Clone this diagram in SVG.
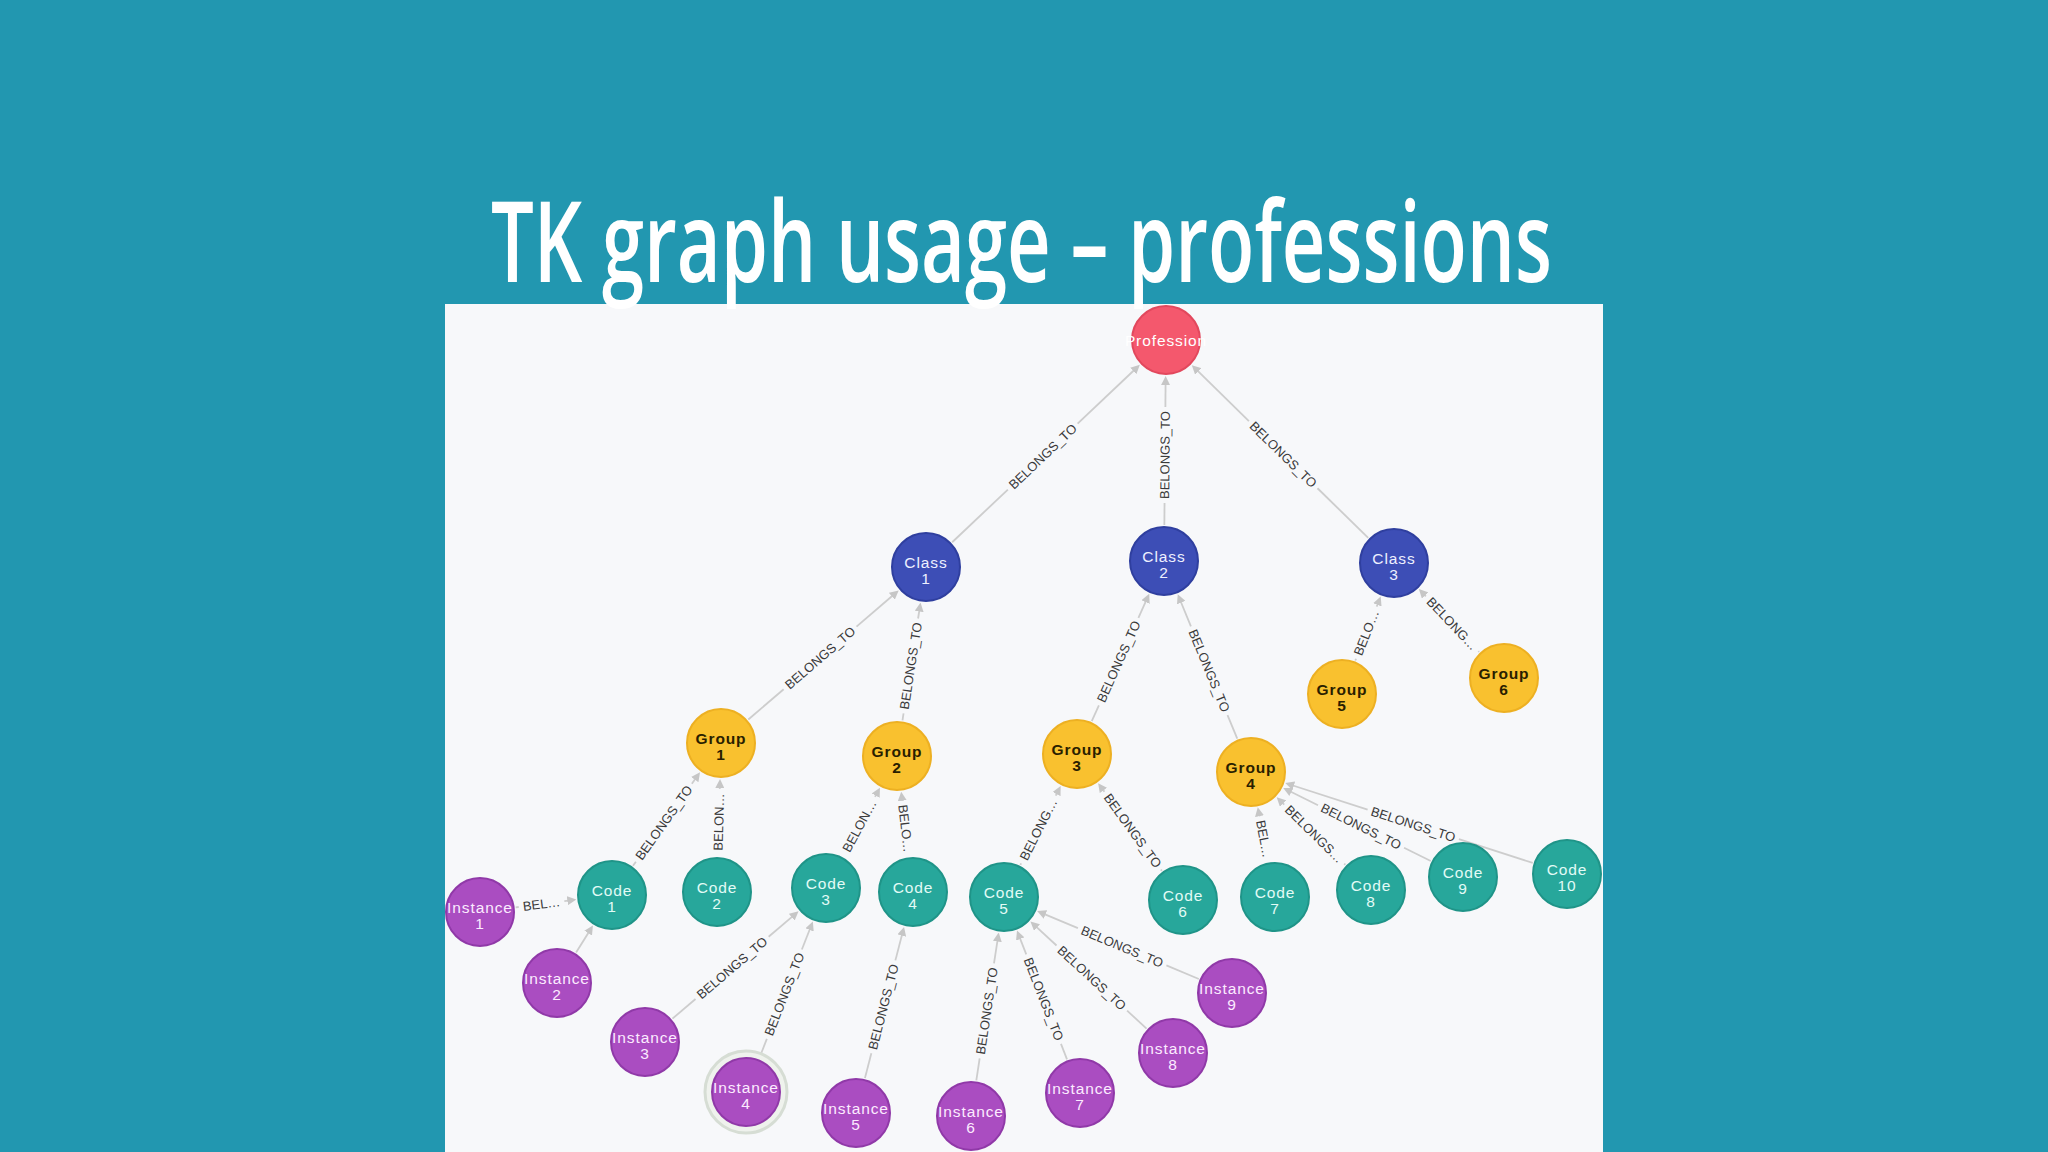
<svg xmlns="http://www.w3.org/2000/svg" width="2048" height="1152" viewBox="0 0 2048 1152">
<defs>
<style>
.e line{stroke:#CDCDCD;stroke-width:1.8;fill:none}
.e text{font-family:"Liberation Sans",Arial,sans-serif;font-size:13px;fill:#3A3A3A;text-anchor:middle}
.n circle{stroke-width:2}
.n text{font-family:"Liberation Sans",Arial,sans-serif;font-size:15.5px;letter-spacing:0.9px;text-anchor:middle}
.prof circle{fill:#F4586D;stroke:#E2485D}
.prof text{fill:#FFFFFF}
.cls circle{fill:#3D4EB6;stroke:#2F3F9F}
.cls text{fill:#EEF0FF}
.grp circle{fill:#F9C12F;stroke:#EDB022}
.grp text{fill:#2A1E00;font-weight:bold}
.code circle{fill:#27A79B;stroke:#1F9488}
.code text{fill:#E2FBF6}
.inst circle{fill:#AA4DC1;stroke:#9039A8}
.inst text{fill:#FCEBFF}
.inst circle.halo{fill:#EFF2ED;stroke:#D6DDD4;stroke-width:3}
</style>
<marker id="arr" viewBox="0 0 9 9" refX="5" refY="4.5" markerWidth="9" markerHeight="9" markerUnits="userSpaceOnUse" orient="auto"><path d="M0,0 L9,4.5 L0,9 z" fill="#C6C6C6"/></marker>
</defs>
<rect x="0" y="0" width="2048" height="1152" fill="#2297B0"/>
<rect x="445" y="304" width="1158" height="848" fill="#F7F8FA"/>
<text x="1021.5" y="282" font-family="'Open Sans',sans-serif" font-weight="600" font-size="112" textLength="1061" lengthAdjust="spacingAndGlyphs" text-anchor="middle" fill="#FFFFFF">TK graph usage – professions</text>

<g id="connectors">
<g class="e" transform="translate(1046 453.5) rotate(-43.4)"><line x1="-129.15" y1="0" x2="-52.5" y2="0"/><line x1="43.5" y1="0" x2="125.15" y2="0" marker-end="url(#arr)"/><text x="-4.5" y="4.5">BELONGS_TO</text></g>
<g class="e" transform="translate(1165 450.5) rotate(-89.5)"><line x1="-74.5" y1="0" x2="-52.5" y2="0"/><line x1="43.5" y1="0" x2="70.5" y2="0" marker-end="url(#arr)"/><text x="-4.5" y="4.5">BELONGS_TO</text></g>
<g class="e" transform="translate(1280 451.5) rotate(-135.6)"><line x1="-123.45" y1="0" x2="-52.5" y2="0"/><line x1="43.5" y1="0" x2="119.45" y2="0" marker-end="url(#arr)"/><text x="-4.5" y="4.5" transform="rotate(180 -4.5 0)">BELONGS_TO</text></g>
<g class="e" transform="translate(823.5 655) rotate(-40.65)"><line x1="-99.1" y1="0" x2="-52.5" y2="0"/><line x1="43.5" y1="0" x2="95.1" y2="0" marker-end="url(#arr)"/><text x="-4.5" y="4.5">BELONGS_TO</text></g>
<g class="e" transform="translate(911.5 661.5) rotate(-81.3)"><line x1="-59.6" y1="0" x2="-52.5" y2="0"/><line x1="43.5" y1="0" x2="55.6" y2="0" marker-end="url(#arr)"/><text x="-4.5" y="4.5">BELONGS_TO</text></g>
<g class="e" transform="translate(1120.5 657.5) rotate(-65.7)"><line x1="-69.85" y1="0" x2="-52.5" y2="0"/><line x1="43.5" y1="0" x2="65.85" y2="0" marker-end="url(#arr)"/><text x="-4.5" y="4.5">BELONGS_TO</text></g>
<g class="e" transform="translate(1207.5 666.5) rotate(-112.4)"><line x1="-78.1" y1="0" x2="-52.5" y2="0"/><line x1="43.5" y1="0" x2="74.1" y2="0" marker-end="url(#arr)"/><text x="-4.5" y="4.5" transform="rotate(180 -4.5 0)">BELONGS_TO</text></g>
<g class="e" transform="translate(1368 628.5) rotate(-68.4)"><line x1="-34.45" y1="0" x2="-32.5" y2="0"/><line x1="23.5" y1="0" x2="30.45" y2="0" marker-end="url(#arr)"/><text x="-4.5" y="4.5">BELO…</text></g>
<g class="e" transform="translate(1449 620.5) rotate(-133.7)"><line x1="-43.55" y1="0" x2="-42.5" y2="0"/><line x1="33.5" y1="0" x2="39.55" y2="0" marker-end="url(#arr)"/><text x="-4.5" y="4.5" transform="rotate(180 -4.5 0)">BELONG…</text></g>
<g class="e" transform="translate(666.5 819) rotate(-54.35)"><line x1="-57.5" y1="0" x2="-52.5" y2="0"/><line x1="43.5" y1="0" x2="53.5" y2="0" marker-end="url(#arr)"/><text x="-4.5" y="4.5">BELONGS_TO</text></g>
<g class="e" transform="translate(719 817.5) rotate(-88.46)"><line x1="28.5" y1="0" x2="34.5" y2="0" marker-end="url(#arr)"/><text x="-4.5" y="4.5">BELON…</text></g>
<g class="e" transform="translate(861.5 822) rotate(-61.7)"><line x1="28.5" y1="0" x2="34.95" y2="0" marker-end="url(#arr)"/><text x="-4.5" y="4.5">BELON…</text></g>
<g class="e" transform="translate(905 824) rotate(-96.7)"><line x1="23.5" y1="0" x2="28.45" y2="0" marker-end="url(#arr)"/><text x="-4.5" y="4.5" transform="rotate(180 -4.5 0)">BELO…</text></g>
<g class="e" transform="translate(1040.5 825.5) rotate(-62.96)"><line x1="-44.3" y1="0" x2="-42.5" y2="0"/><line x1="33.5" y1="0" x2="40.3" y2="0" marker-end="url(#arr)"/><text x="-4.5" y="4.5">BELONG…</text></g>
<g class="e" transform="translate(1130 827) rotate(-126)"><line x1="-54.2" y1="0" x2="-52.5" y2="0"/><line x1="43.5" y1="0" x2="50.2" y2="0" marker-end="url(#arr)"/><text x="-4.5" y="4.5" transform="rotate(180 -4.5 0)">BELONGS_TO</text></g>
<g class="e" transform="translate(1263 834.5) rotate(-100.9)"><line x1="18.5" y1="0" x2="23.65" y2="0" marker-end="url(#arr)"/><text x="-4.5" y="4.5" transform="rotate(180 -4.5 0)">BEL…</text></g>
<g class="e" transform="translate(1311 831) rotate(-135.5)"><line x1="-48.15" y1="0" x2="-46.5" y2="0"/><line x1="37.5" y1="0" x2="44.15" y2="0" marker-end="url(#arr)"/><text x="-4.5" y="4.5" transform="rotate(180 -4.5 0)">BELONGS…</text></g>
<g class="e" transform="translate(1357 824.5) rotate(-153.65)"><line x1="-82.3" y1="0" x2="-52.5" y2="0"/><line x1="43.5" y1="0" x2="78.3" y2="0" marker-end="url(#arr)"/><text x="-4.5" y="4.5" transform="rotate(180 -4.5 0)">BELONGS_TO</text></g>
<g class="e" transform="translate(1409 823) rotate(-162.1)"><line x1="-130.05" y1="0" x2="-52.5" y2="0"/><line x1="43.5" y1="0" x2="126.05" y2="0" marker-end="url(#arr)"/><text x="-4.5" y="4.5" transform="rotate(180 -4.5 0)">BELONGS_TO</text></g>
<g class="e" transform="translate(546 903.5) rotate(-7.34)"><line x1="-30.55" y1="0" x2="-27.5" y2="0"/><line x1="18.5" y1="0" x2="26.55" y2="0" marker-end="url(#arr)"/><text x="-4.5" y="4.5">BEL…</text></g>
<g class="e" transform="translate(584.5 939) rotate(-58)"><line x1="-15.9" y1="0" x2="11.9" y2="0" marker-end="url(#arr)"/></g>
<g class="e" transform="translate(735.5 965) rotate(-40.4)"><line x1="-82.8" y1="0" x2="-52.5" y2="0"/><line x1="43.5" y1="0" x2="78.8" y2="0" marker-end="url(#arr)"/><text x="-4.5" y="4.5">BELONGS_TO</text></g>
<g class="e" transform="translate(786 990) rotate(-68.6)"><line x1="-73.55" y1="0" x2="-52.5" y2="0"/><line x1="43.5" y1="0" x2="69.55" y2="0" marker-end="url(#arr)"/><text x="-4.5" y="4.5">BELONGS_TO</text></g>
<g class="e" transform="translate(884.5 1002.5) rotate(-75.5)"><line x1="-78.1" y1="0" x2="-52.5" y2="0"/><line x1="43.5" y1="0" x2="74.1" y2="0" marker-end="url(#arr)"/><text x="-4.5" y="4.5">BELONGS_TO</text></g>
<g class="e" transform="translate(987.5 1006.5) rotate(-81.4)"><line x1="-74.75" y1="0" x2="-52.5" y2="0"/><line x1="43.5" y1="0" x2="70.75" y2="0" marker-end="url(#arr)"/><text x="-4.5" y="4.5">BELONGS_TO</text></g>
<g class="e" transform="translate(1042 995) rotate(-111.2)"><line x1="-69.1" y1="0" x2="-52.5" y2="0"/><line x1="43.5" y1="0" x2="65.1" y2="0" marker-end="url(#arr)"/><text x="-4.5" y="4.5" transform="rotate(180 -4.5 0)">BELONGS_TO</text></g>
<g class="e" transform="translate(1088.5 975) rotate(-137.3)"><line x1="-79" y1="0" x2="-52.5" y2="0"/><line x1="43.5" y1="0" x2="75" y2="0" marker-end="url(#arr)"/><text x="-4.5" y="4.5" transform="rotate(180 -4.5 0)">BELONGS_TO</text></g>
<g class="e" transform="translate(1118 945) rotate(-157.2)"><line x1="-87.7" y1="0" x2="-52.5" y2="0"/><line x1="43.5" y1="0" x2="83.7" y2="0" marker-end="url(#arr)"/><text x="-4.5" y="4.5" transform="rotate(180 -4.5 0)">BELONGS_TO</text></g>
</g>

<g id="nodes">
<g id="profession" class="n prof"><circle cx="1166" cy="340" r="34"/><text x="1166" y="345.5">Profession</text></g>
<g id="class1" class="n cls"><circle cx="926" cy="567" r="34"/><text><tspan x="926" y="568">Class</tspan><tspan x="926" y="584">1</tspan></text></g>
<g id="class2" class="n cls"><circle cx="1164" cy="561" r="34"/><text><tspan x="1164" y="562">Class</tspan><tspan x="1164" y="578">2</tspan></text></g>
<g id="class3" class="n cls"><circle cx="1394" cy="563" r="34"/><text><tspan x="1394" y="564">Class</tspan><tspan x="1394" y="580">3</tspan></text></g>
<g id="group1" class="n grp"><circle cx="721" cy="743" r="34"/><text><tspan x="721" y="744">Group</tspan><tspan x="721" y="760">1</tspan></text></g>
<g id="group2" class="n grp"><circle cx="897" cy="756" r="34"/><text><tspan x="897" y="757">Group</tspan><tspan x="897" y="773">2</tspan></text></g>
<g id="group3" class="n grp"><circle cx="1077" cy="754" r="34"/><text><tspan x="1077" y="755">Group</tspan><tspan x="1077" y="771">3</tspan></text></g>
<g id="group4" class="n grp"><circle cx="1251" cy="772" r="34"/><text><tspan x="1251" y="773">Group</tspan><tspan x="1251" y="789">4</tspan></text></g>
<g id="group5" class="n grp"><circle cx="1342" cy="694" r="34"/><text><tspan x="1342" y="695">Group</tspan><tspan x="1342" y="711">5</tspan></text></g>
<g id="group6" class="n grp"><circle cx="1504" cy="678" r="34"/><text><tspan x="1504" y="679">Group</tspan><tspan x="1504" y="695">6</tspan></text></g>
<g id="code1" class="n code"><circle cx="612" cy="895" r="34"/><text><tspan x="612" y="896">Code</tspan><tspan x="612" y="912">1</tspan></text></g>
<g id="code2" class="n code"><circle cx="717" cy="892" r="34"/><text><tspan x="717" y="893">Code</tspan><tspan x="717" y="909">2</tspan></text></g>
<g id="code3" class="n code"><circle cx="826" cy="888" r="34"/><text><tspan x="826" y="889">Code</tspan><tspan x="826" y="905">3</tspan></text></g>
<g id="code4" class="n code"><circle cx="913" cy="892" r="34"/><text><tspan x="913" y="893">Code</tspan><tspan x="913" y="909">4</tspan></text></g>
<g id="code5" class="n code"><circle cx="1004" cy="897" r="34"/><text><tspan x="1004" y="898">Code</tspan><tspan x="1004" y="914">5</tspan></text></g>
<g id="code6" class="n code"><circle cx="1183" cy="900" r="34"/><text><tspan x="1183" y="901">Code</tspan><tspan x="1183" y="917">6</tspan></text></g>
<g id="code7" class="n code"><circle cx="1275" cy="897" r="34"/><text><tspan x="1275" y="898">Code</tspan><tspan x="1275" y="914">7</tspan></text></g>
<g id="code8" class="n code"><circle cx="1371" cy="890" r="34"/><text><tspan x="1371" y="891">Code</tspan><tspan x="1371" y="907">8</tspan></text></g>
<g id="code9" class="n code"><circle cx="1463" cy="877" r="34"/><text><tspan x="1463" y="878">Code</tspan><tspan x="1463" y="894">9</tspan></text></g>
<g id="code10" class="n code"><circle cx="1567" cy="874" r="34"/><text><tspan x="1567" y="875">Code</tspan><tspan x="1567" y="891">10</tspan></text></g>
<g id="instance1" class="n inst"><circle cx="480" cy="912" r="34"/><text><tspan x="480" y="913">Instance</tspan><tspan x="480" y="929">1</tspan></text></g>
<g id="instance2" class="n inst"><circle cx="557" cy="983" r="34"/><text><tspan x="557" y="984">Instance</tspan><tspan x="557" y="1000">2</tspan></text></g>
<g id="instance3" class="n inst"><circle cx="645" cy="1042" r="34"/><text><tspan x="645" y="1043">Instance</tspan><tspan x="645" y="1059">3</tspan></text></g>
<g id="instance4" class="n inst"><circle class="halo" cx="746" cy="1092" r="41"/><circle cx="746" cy="1092" r="34"/><text><tspan x="746" y="1093">Instance</tspan><tspan x="746" y="1109">4</tspan></text></g>
<g id="instance5" class="n inst"><circle cx="856" cy="1113" r="34"/><text><tspan x="856" y="1114">Instance</tspan><tspan x="856" y="1130">5</tspan></text></g>
<g id="instance6" class="n inst"><circle cx="971" cy="1116" r="34"/><text><tspan x="971" y="1117">Instance</tspan><tspan x="971" y="1133">6</tspan></text></g>
<g id="instance7" class="n inst"><circle cx="1080" cy="1093" r="34"/><text><tspan x="1080" y="1094">Instance</tspan><tspan x="1080" y="1110">7</tspan></text></g>
<g id="instance8" class="n inst"><circle cx="1173" cy="1053" r="34"/><text><tspan x="1173" y="1054">Instance</tspan><tspan x="1173" y="1070">8</tspan></text></g>
<g id="instance9" class="n inst"><circle cx="1232" cy="993" r="34"/><text><tspan x="1232" y="994">Instance</tspan><tspan x="1232" y="1010">9</tspan></text></g>
</g>
</svg>
